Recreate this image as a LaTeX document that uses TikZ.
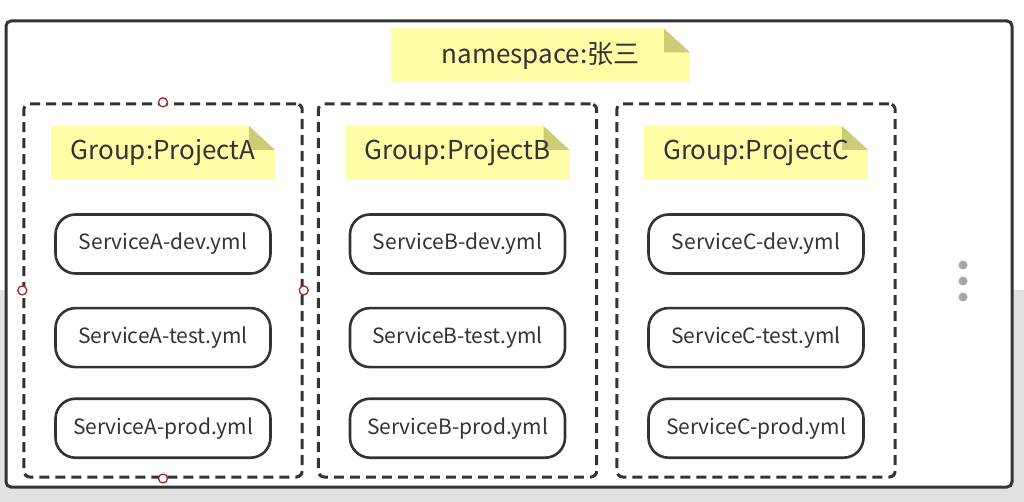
\documentclass[tikz,border=0pt]{standalone}
\usepackage{fontspec}
\setmainfont{Noto Sans CJK SC}
\usetikzlibrary{positioning,fit}
\definecolor{noteyel}{HTML}{FFFCA6}
\definecolor{notefold}{HTML}{CCCB78}
\definecolor{inkgray}{HTML}{333333}
\definecolor{handlered}{HTML}{A52A2A}
\definecolor{backgray}{HTML}{E2E2E2}

\begin{document}
\begin{tikzpicture}[x=1pt,y=-1pt,
  node distance=32pt,
  note/.style={fill=noteyel,text=inkgray,minimum height=54pt,inner sep=0pt,
    font=\fontsize{26}{26}\selectfont,
    path picture={
      \fill[white] (path picture bounding box.north east) ++(-26pt,0pt) -- ++(26pt,0pt) -- ++(0pt,-24pt) -- cycle;
      \fill[notefold] (path picture bounding box.north east) ++(-26pt,0pt) -- ++(0pt,-24pt) -- ++(26pt,0pt) -- cycle;}},
  group/.style={note,minimum width=224pt},
  svc/.style={draw=inkgray,line width=2.6pt,rounded corners=20pt,fill=white,
    minimum width=215pt,minimum height=59pt,inner sep=0pt,text=inkgray,
    font=\fontsize{21}{21}\selectfont},
  frame/.style={draw=inkgray,line width=3pt,dash pattern=on 10pt off 6pt,
    rounded corners=6pt,inner xsep=27pt,inner ysep=20pt,yshift=2pt},
  handle/.style={circle,draw=handlered,fill=white,line width=1.3pt,inner sep=0pt,minimum size=9pt},
  dot/.style={circle,fill=gray!70,inner sep=0pt,minimum size=9pt}
]
\useasboundingbox (0,0) rectangle (1024,502);
\fill[white] (0,0) rectangle (1024,502);
\fill[backgray] (0,290) rectangle (1024,502);
\node[draw=inkgray,line width=3pt,rounded corners=5pt,fill=white,
  minimum width=1006pt,minimum height=466pt] (space) at (509,254) {};
\node[note,minimum width=299pt] (ns) at (540.5,55.5) {namespace:张三};

% project A
\node[group] (grpA) at (163,153) {Group:ProjectA};
\node[svc,below=33pt of grpA] (devA) {ServiceA-dev.yml};
\node[svc,below=of devA] (testA) {ServiceA-test.yml};
\node[svc,below=29pt of testA] (prodA) {ServiceA-prod.yml};
\node[frame,fit=(grpA)(prodA)] (boxA) {};

% project B
\node[group] (grpB) at (457.5,153) {Group:ProjectB};
\node[svc,below=33pt of grpB] (devB) {ServiceB-dev.yml};
\node[svc,below=of devB] (testB) {ServiceB-test.yml};
\node[svc,below=29pt of testB] (prodB) {ServiceB-prod.yml};
\node[frame,fit=(grpB)(prodB)] (boxB) {};

% project C
\node[group] (grpC) at (756,153) {Group:ProjectC};
\node[svc,below=33pt of grpC] (devC) {ServiceC-dev.yml};
\node[svc,below=of devC] (testC) {ServiceC-test.yml};
\node[svc,below=29pt of testC] (prodC) {ServiceC-prod.yml};
\node[frame,fit=(grpC)(prodC)] (boxC) {};

% selection handles
\node[handle] (hN) at (boxA.north) {};
\node[handle] (hS) at (boxA.south) {};
\node[handle] (hW) at (boxA.west) {};
\node[handle] (hE) at (boxA.east) {};

\node[dot] (dot1) at (963,265) {};
\node[dot] (dot2) at (963,281) {};
\node[dot] (dot3) at (963,297) {};
\end{tikzpicture}
\end{document}
